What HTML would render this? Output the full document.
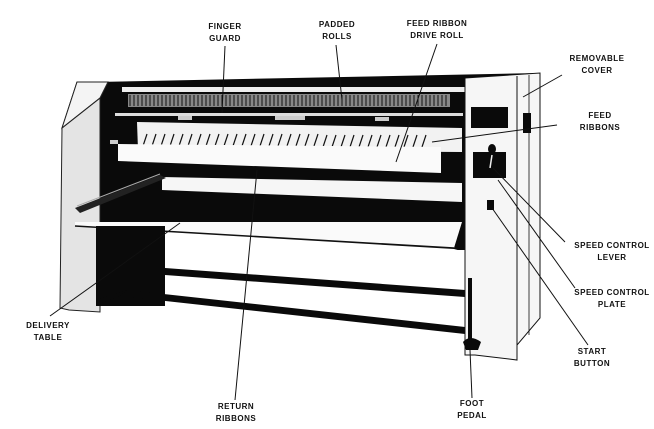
<!DOCTYPE html>
<html><head><meta charset="utf-8"><style>
html,body{margin:0;padding:0;background:#fff;}
svg{display:block;}
text{font-family:"Liberation Sans","DejaVu Sans",sans-serif;font-weight:bold;font-size:8px;fill:#111;text-anchor:middle;letter-spacing:0.5px;}
</style></head><body>
<svg width="654" height="429" viewBox="0 0 654 429" xmlns="http://www.w3.org/2000/svg">
<rect width="654" height="429" fill="#fff"/>
<polygon points="96,82 540,73 540,230 465,300 96,300" fill="#0a0a0a"/>
<polygon points="62,128 77,82 108,82 100,98 100,312 69,310 60,308" fill="#e4e4e4" stroke="#222" stroke-width="1"/>
<polygon points="62,128 77,82 108,82 100,98" fill="#f4f4f4" stroke="#222" stroke-width="1"/>
<line x1="100" y1="98" x2="62" y2="128" stroke="#222"/>
<rect x="122" y="87" width="344" height="5" fill="#eee"/>
<rect x="128" y="94" width="322" height="13" fill="#888"/>
<g stroke="#111" stroke-width="1">
<path d="M130 95v11M134 95v11M138 95v11M142 95v11M146 95v11M150 95v11M154 95v11M158 95v11M162 95v11M166 95v11M170 95v11M174 95v11M178 95v11M182 95v11M186 95v11M190 95v11M194 95v11M198 95v11M202 95v11M206 95v11M210 95v11M214 95v11M218 95v11M222 95v11M226 95v11M230 95v11M234 95v11M238 95v11M242 95v11M246 95v11M250 95v11M254 95v11M258 95v11M262 95v11M266 95v11M270 95v11M274 95v11M278 95v11M282 95v11M286 95v11M290 95v11M294 95v11M298 95v11M302 95v11M306 95v11M310 95v11M314 95v11M318 95v11M322 95v11M326 95v11M330 95v11M334 95v11M338 95v11M342 95v11M346 95v11M350 95v11M354 95v11M358 95v11M362 95v11M366 95v11M370 95v11M374 95v11M378 95v11M382 95v11M386 95v11M390 95v11M394 95v11M398 95v11M402 95v11M406 95v11M410 95v11M414 95v11M418 95v11M422 95v11M426 95v11M430 95v11M434 95v11M438 95v11M442 95v11M446 95v11"/>
</g>
<rect x="115" y="113" width="348" height="3" fill="#ddd"/>
<rect x="178" y="116" width="14" height="4" fill="#ccc"/><rect x="275" y="116" width="30" height="4" fill="#ccc"/><rect x="375" y="117" width="14" height="4" fill="#ccc"/>
<polygon points="137,122 462,128 462,152 138,150" fill="#f2f2f2"/>
<g stroke="#111" stroke-width="1.2">
<path d="M143 146l4-12M152 146l4-12M161 146l4-12M170 146l4-12M179 146l4-12M188 146l4-12M197 146l4-12M206 146l4-12M215 146l4-12M224 146l4-12M233 146l4-12M242 146l4-12M251 146l4-12M260 146l4-12M269 146l4-12M278 146l4-12M287 146l4-12M296 146l4-12M305 146l4-12M314 146l4-12M323 147l4-12M332 147l4-12M341 147l4-12M350 147l4-12M359 147l4-12M368 147l4-12M377 147l4-12M386 147l4-12M395 147l4-12M404 147l4-12M413 147l4-12M422 147l4-12"/>
</g>
<polygon points="118,144 441,147 441,173 118,161" fill="#fafafa"/>
<rect x="110" y="140" width="8" height="4" fill="#ccc"/>
<polygon points="162,177 462,183 462,202 162,190" fill="#f6f6f6"/>
<polygon points="75,208 160,175 166,178 80,213" fill="#222"/>
<line x1="77" y1="206" x2="160" y2="174" stroke="#aaa" stroke-width="1"/>
<polygon points="75,222 96,222 462,222 454,248 75,226" fill="#fafafa"/>
<line x1="75" y1="226" x2="454" y2="248" stroke="#111" stroke-width="1.5"/>
<polygon points="96,250 165,250 465,250 465,340 270,320 96,305" fill="#fff"/>
<polygon points="165,232 454,249 465,252 465,272 165,256" fill="#fff"/>
<rect x="96" y="226" width="69" height="80" fill="#0a0a0a"/>
<polygon points="165,268 465,290 465,297 165,275" fill="#0a0a0a"/>
<polygon points="127,290 465,327 465,334 120,296" fill="#0a0a0a"/>
<polygon points="96,300 127,290 120,296 96,305" fill="#0a0a0a"/>
<polygon points="465,78 540,73 540,318 517,345 517,360 475,355 465,355" fill="#f6f6f6" stroke="#111" stroke-width="1"/>
<line x1="517" y1="76" x2="517" y2="360" stroke="#111"/>
<line x1="529" y1="75" x2="529" y2="335" stroke="#111" stroke-width="0.8"/>
<rect x="471" y="107" width="37" height="21" fill="#0a0a0a"/>
<rect x="523" y="113" width="8" height="20" fill="#0a0a0a"/>
<rect x="473" y="152" width="33" height="26" fill="#0a0a0a"/>
<ellipse cx="492" cy="149" rx="4" ry="5" fill="#0a0a0a"/>
<line x1="490" y1="168" x2="492" y2="155" stroke="#eee" stroke-width="1.5"/>
<rect x="487" y="200" width="7" height="10" fill="#0a0a0a"/>
<rect x="468" y="278" width="4" height="65" fill="#0a0a0a"/>
<path d="M463 342q7-8 18 0l-3 8h-12z" fill="#0a0a0a"/>
<g stroke="#111" stroke-width="1" fill="none">
<line x1="225" y1="46" x2="222" y2="113"/>
<line x1="336" y1="45" x2="342" y2="100"/>
<line x1="437" y1="44" x2="396" y2="162"/>
<line x1="562" y1="75" x2="523" y2="97"/>
<line x1="557" y1="125" x2="432" y2="142"/>
<line x1="565" y1="242" x2="493" y2="168"/>
<line x1="575" y1="288" x2="498" y2="180"/>
<line x1="588" y1="345" x2="492" y2="208"/>
<line x1="472" y1="398" x2="470" y2="350"/>
<line x1="50" y1="316" x2="180" y2="223"/>
<line x1="235" y1="400" x2="257" y2="170"/>
</g>
<text x="225" y="29">FINGER</text><text x="225" y="41">GUARD</text>
<text x="337" y="27">PADDED</text><text x="337" y="39">ROLLS</text>
<text x="437" y="26">FEED RIBBON</text><text x="437" y="38">DRIVE ROLL</text>
<text x="597" y="61">REMOVABLE</text><text x="597" y="73">COVER</text>
<text x="600" y="118">FEED</text><text x="600" y="130">RIBBONS</text>
<text x="612" y="248">SPEED CONTROL</text><text x="612" y="260">LEVER</text>
<text x="612" y="295">SPEED CONTROL</text><text x="612" y="307">PLATE</text>
<text x="592" y="354">START</text><text x="592" y="366">BUTTON</text>
<text x="472" y="406">FOOT</text><text x="472" y="418">PEDAL</text>
<text x="48" y="328">DELIVERY</text><text x="48" y="340">TABLE</text>
<text x="236" y="409">RETURN</text><text x="236" y="421">RIBBONS</text>
</svg>
</body></html>
